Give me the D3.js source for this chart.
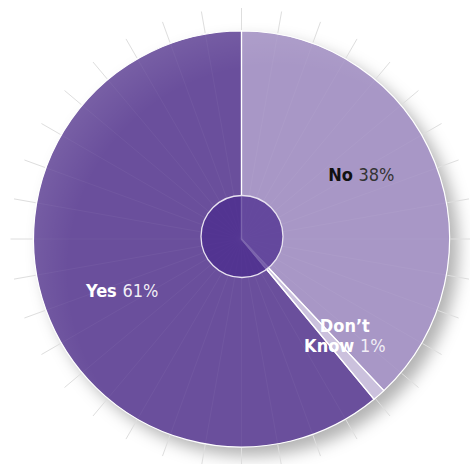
<!DOCTYPE html>
<html>
<head>
<meta charset="utf-8">
<script src="https://cdn.jsdelivr.net/npm/d3@7"></script>
<style>
  html, body { margin: 0; padding: 0; background: #fff; }
  svg { display: block; }
  text { font-family: "DejaVu Sans Condensed", "DejaVu Sans", sans-serif; font-stretch: condensed; }
</style>
</head>
<body>
<svg id="chart" width="470" height="464"></svg>
<script>
// Survey answers and their shares (%)
const answers = ["No", "Don\u2019t Know", "Yes"];
const shares = [38, 1, 61];
const sliceColors = ["#a897c6", "#cbc1dd", "#6a4f9c"];

const width = 470, height = 464;
const cx = 241.5, cy = 239;
const R = 208;
const hubR = 41;
const spokeR = 231;

const svg = d3.select("#chart");
const defs = svg.append("defs");

// soft drop shadow under the pie
const shadow = defs.append("filter").attr("id", "shadow")
  .attr("x", "-20%").attr("y", "-20%").attr("width", "150%").attr("height", "150%");
shadow.append("feDropShadow")
  .attr("dx", 9).attr("dy", 9).attr("stdDeviation", 8)
  .attr("flood-color", "#000").attr("flood-opacity", 0.3);

// light sheen along the upper-left rim
const sheen = defs.append("radialGradient").attr("id", "sheen")
  .attr("cx", "58%").attr("cy", "58%").attr("r", "62%");
sheen.append("stop").attr("offset", "80%").attr("stop-color", "#fff").attr("stop-opacity", 0);
sheen.append("stop").attr("offset", "100%").attr("stop-color", "#fff").attr("stop-opacity", 0.1);

const g = svg.append("g").attr("transform", `translate(${cx},${cy})`);

const pie = d3.pie().sort(null).value(d => d.v);
const arcs = pie(answers.map((a, i) => ({ name: a, v: shares[i], color: sliceColors[i] })));
const arc = d3.arc().innerRadius(0).outerRadius(R);

// slices
g.append("g").attr("filter", "url(#shadow)")
  .selectAll("path").data(arcs).join("path")
  .attr("d", arc)
  .attr("fill", d => d.data.color);

g.append("circle").attr("r", R).attr("fill", "url(#sheen)");

// spokes every 10 degrees
const spokes = d3.range(0, 360, 10);
const rad = a => a * Math.PI / 180;
g.append("g").selectAll("line").data(spokes).join("line")
  .attr("x1", a => Math.sin(rad(a)) * (R + 1))
  .attr("y1", a => -Math.cos(rad(a)) * (R + 1))
  .attr("x2", a => Math.sin(rad(a)) * spokeR)
  .attr("y2", a => -Math.cos(rad(a)) * spokeR)
  .attr("stroke", "#dedede").attr("stroke-width", 1);

g.append("g").selectAll("line").data(spokes).join("line")
  .attr("x1", 0).attr("y1", 0)
  .attr("x2", a => Math.sin(rad(a)) * R)
  .attr("y2", a => -Math.cos(rad(a)) * R)
  .attr("stroke", "#fff").attr("stroke-opacity", 0.045).attr("stroke-width", 1);

// slice borders
g.append("g").selectAll("path").data(arcs).join("path")
  .attr("d", arc)
  .attr("fill", "none")
  .attr("stroke", "#fff").attr("stroke-width", 1.2).attr("stroke-linejoin", "round");

// hub
g.append("circle").attr("cx", 0.5).attr("cy", -2.5).attr("r", hubR)
  .attr("fill", "#4a2a8e").attr("fill-opacity", 0.72)
  .attr("stroke", "#e8e2f0").attr("stroke-width", 1.3);

// labels
const labelArc = d3.arc().innerRadius(R * 0.635).outerRadius(R * 0.635);
const fs = 18;
const labelStyle = [
  { name: "#111", value: "#333", valueOpacity: 1, nudge: [-3, -9] },
  { name: "#fff", value: "#fff", valueOpacity: 0.85, nudge: [16, 0] },
  { name: "#fff", value: "#fff", valueOpacity: 0.92, nudge: [5, 13] }
];

arcs.forEach((d, i) => {
  const [x, y] = labelArc.centroid(d);
  const st = labelStyle[i];
  const t = g.append("text")
    .attr("text-anchor", "middle")
    .attr("font-size", fs)
    .attr("transform", `translate(${x + st.nudge[0]},${y + st.nudge[1]})`);
  if (d.data.name === "Don\u2019t Know") {
    const parts = d.data.name.split(" ");
    t.append("tspan").attr("x", 0).attr("y", -6)
      .attr("font-weight", "bold").attr("fill", st.name).text(parts[0]);
    const l2 = t.append("tspan").attr("x", 0).attr("y", 14);
    l2.append("tspan").attr("font-weight", "bold").attr("fill", st.name).text(parts[1] + " ");
    l2.append("tspan").attr("fill", st.value).attr("fill-opacity", st.valueOpacity).text(d.data.v + "%");
  } else {
    t.append("tspan").attr("font-weight", "bold").attr("fill", st.name).text(d.data.name + " ");
    t.append("tspan").attr("fill", st.value).attr("fill-opacity", st.valueOpacity).text(d.data.v + "%");
  }
});
</script>
</body>
</html>
